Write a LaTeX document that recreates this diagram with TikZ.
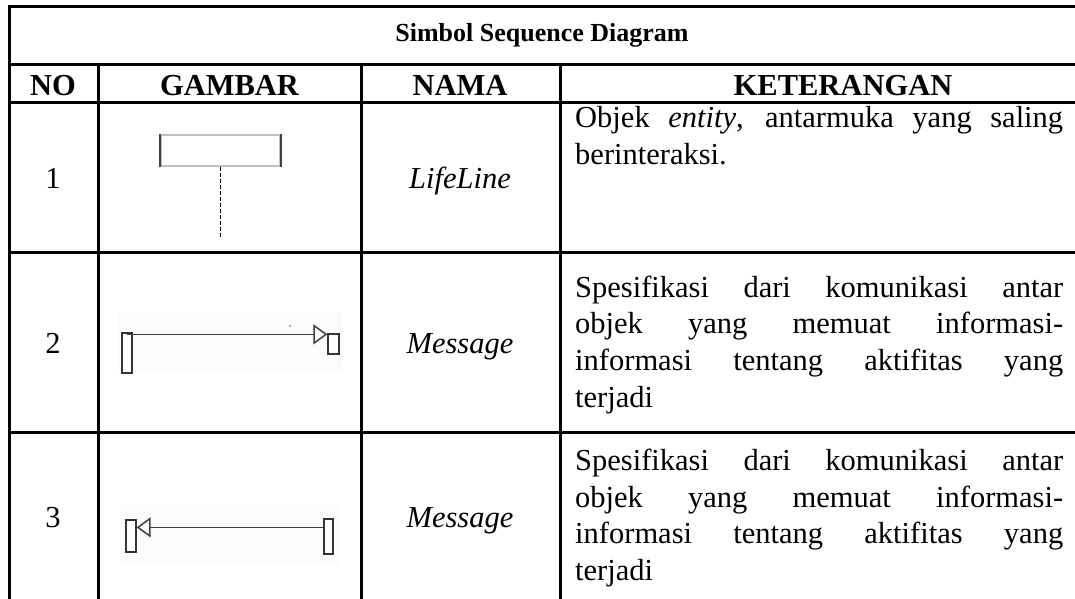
\documentclass[tikz,border=0pt]{standalone}
\usepackage{fontspec}
\setmainfont{Liberation Serif}
\usetikzlibrary{arrows.meta}
\tikzset{
  gridline/.style={line width=3pt, black},
  txt/.style={anchor=base, inner sep=0pt, font=\fontsize{30.5}{36.7}\selectfont},
  hdr/.style={anchor=base, inner sep=0pt, font=\fontsize{30.5}{36.7}\selectfont\bfseries},
  ttl/.style={anchor=base, inner sep=0pt, font=\fontsize{26}{30}\selectfont\bfseries},
  body/.style={anchor=base west, inner sep=0pt, font=\fontsize{30.5}{36.7}\selectfont},
  act/.style={draw=black!80, line width=1.3pt, inner sep=0pt, fill=white},
  msg/.style={draw=black!75, line width=1.5pt, -{Triangle[open, length=14pt, width=20pt]}},
  faint/.style={fill=black!1.5, draw=none},
}
\newcommand{\jline}[1]{\makebox[488pt][s]{#1}}
\begin{document}
\begin{tikzpicture}[x=1pt, y=-1pt]
\useasboundingbox (0,0) rectangle (1075,599);
\clip (0,0) rectangle (1075,599);
% table grid
\draw[gridline] (9,7) -- (1080,7);
\draw[gridline] (9,65) -- (1080,65);
\draw[gridline] (9,103) -- (1080,103);
\draw[gridline] (9,252) -- (1080,252);
\draw[gridline] (9,432) -- (1080,432);
\draw[gridline] (9,5.5) -- (9,605);
\draw[gridline] (98,65) -- (98,605);
\draw[gridline] (361,65) -- (361,605);
\draw[gridline] (560,65) -- (560,605);
% title and headers
\node[ttl] (title) at (542,42) {Simbol Sequence Diagram};
\node[hdr] (hno) at (53,96) {NO};
\node[hdr] (hgb) at (229.5,96) {GAMBAR};
\node[hdr] (hnm) at (460,96) {NAMA};
\node[hdr] (hkt) at (843,96) {KETERANGAN};
% numbers
\node[txt] (n1) at (53,188) {1};
\node[txt] (n2) at (53,353) {2};
\node[txt] (n3) at (53,527) {3};
% names
\node[txt] (nm1) at (460,188) {\itshape LifeLine};
\node[txt] (nm2) at (460,353) {\itshape Message};
\node[txt] (nm3) at (460,527) {\itshape Message};
% descriptions
\node[body] (k1a) at (575,128) {\jline{Objek \textit{entity}, antarmuka yang saling}};
\node[body] (k1b) at (575,164) {berinteraksi.};
\node[body] (k2a) at (575,297) {\jline{Spesifikasi dari komunikasi antar}};
\node[body] (k2b) at (575,333) {\jline{objek yang memuat informasi-}};
\node[body] (k2c) at (575,370) {\jline{informasi tentang aktifitas yang}};
\node[body] (k2d) at (575,407) {terjadi};
\node[body] (k3a) at (575,470) {\jline{Spesifikasi dari komunikasi antar}};
\node[body] (k3b) at (575,507) {\jline{objek yang memuat informasi-}};
\node[body] (k3c) at (575,543) {\jline{informasi tentang aktifitas yang}};
\node[body] (k3d) at (575,580) {terjadi};
% row 1: lifeline
\node[draw=black!25, line width=1.2pt, minimum width=119pt, minimum height=31pt, inner sep=0pt] (ll) at (220.5,150.5) {};
\draw[line width=2pt, black!75] (ll.north west) -- (ll.south west);
\draw[line width=2pt, black!75] (ll.north east) -- (ll.south east);
\coordinate (llend) at (220.5,238);
\draw[black, line width=1.8pt, dash pattern=on 4pt off 2pt] (ll.south) -- (llend);
% row 2: message to the right
\fill[faint] (118,312) rectangle (342,373);
\node[act, minimum width=10pt, minimum height=40pt] (a2l) at (127,353) {};
\node[act, minimum width=11pt, minimum height=20pt] (a2r) at (333.5,344) {};
\fill[black!60] (290,326) circle (0.9pt);
\draw[msg] ([yshift=-2pt]a2l.north) -- ([yshift=-1pt]a2r.north west);
% row 3: message to the left
\fill[faint] (120,504) rectangle (340,565);
\node[act, minimum width=10pt, minimum height=32pt] (a3l) at (131,536) {};
\node[act, minimum width=9pt, minimum height=35pt] (a3r) at (328.5,536.5) {};
\draw[msg] ([yshift=-9pt]a3r.north west) -- ([yshift=-8pt]a3l.north east);
\end{tikzpicture}
\end{document}
